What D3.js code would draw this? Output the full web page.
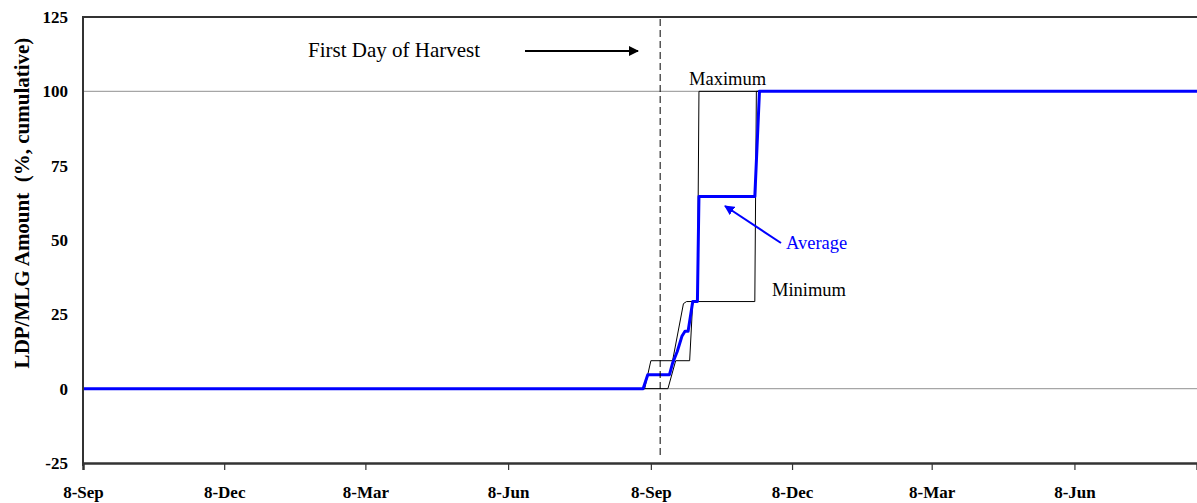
<!DOCTYPE html>
<html><head><meta charset="utf-8">
<script src="https://cdn.jsdelivr.net/npm/d3@7/dist/d3.min.js"></script>
<style>body{margin:0;background:#fff}svg{display:block}</style>
</head><body>
<svg id="c" width="1197" height="503"></svg>
<script>
// ---- data ----
const xDomain = ["2003-09-08", "2005-08-26"];
const xTickDates = ["2003-09-08","2003-12-08","2004-03-08","2004-06-08","2004-09-08","2004-12-08","2005-03-08","2005-06-08"];
const xTickLabels = ["8-Sep","8-Dec","8-Mar","8-Jun","8-Sep","8-Dec","8-Mar","8-Jun"];
const yTicks = [-25, 0, 25, 50, 75, 100, 125];
const gridValues = [0, 100];

const avgDates = ["2003-09-08","2004-09-03","2004-09-06","2004-09-20","2004-09-22","2004-09-25","2004-09-28","2004-09-30","2004-10-02","2004-10-05","2004-10-08","2004-10-09","2004-11-14","2004-11-17","2005-08-26"];
const avgValues = [0, 0, 4.7, 4.7, 8.6, 12.5, 17.6, 19.3, 19.3, 29.3, 29.3, 64.6, 64.6, 100, 100];

const maxDates = ["2003-09-08","2004-09-04","2004-09-08","2004-09-22","2004-09-29","2004-10-01","2004-10-08","2004-10-09","2005-08-26"];
const maxValues = [0, 0, 9.4, 9.4, 28.6, 29.3, 29.3, 100, 100];

const minDates = ["2003-09-08","2004-09-19","2004-09-24","2004-10-03","2004-10-05","2004-11-14","2004-11-15","2005-08-26"];
const minValues = [0, 0, 9.4, 9.4, 29.3, 29.3, 100, 100];

const harvestDate = "2004-09-14";

// ---- layout ----
const parse = d3.timeParse("%Y-%m-%d");
const svg = d3.select("#c");
const L = 83, R = 1197, T = 17, B = 463;
const x = d3.scaleTime().domain(xDomain.map(parse)).range([L, R]);
const y = d3.scaleLinear().domain([-25, 125]).range([B, T]);
const serif = "Liberation Serif, Times New Roman, serif";

// gridlines
svg.append("g").selectAll("line").data(gridValues).join("line")
  .attr("x1", L).attr("x2", R).attr("y1", d => y(d)).attr("y2", d => y(d))
  .attr("stroke", "#a6a6a6").attr("stroke-width", 1.2);

// lines
const mk = (dates, vals) => dates.map((d, i) => ({d: parse(d), v: vals[i]}));
const line = d3.line().x(p => x(p.d)).y(p => y(p.v));
svg.append("path").datum(mk(maxDates, maxValues)).attr("d", line)
  .attr("fill", "none").attr("stroke", "#000").attr("stroke-width", 1);
svg.append("path").datum(mk(minDates, minValues)).attr("d", line)
  .attr("fill", "none").attr("stroke", "#000").attr("stroke-width", 1);
svg.append("path").datum(mk(avgDates, avgValues)).attr("d", line)
  .attr("fill", "none").attr("stroke", "#0000ff").attr("stroke-width", 3).attr("stroke-linejoin", "round");

// harvest dashed line
const hx = x(parse(harvestDate));
svg.append("line").attr("x1", hx).attr("x2", hx).attr("y1", T + 2).attr("y2", B - 4)
  .attr("stroke", "#000").attr("stroke-width", 1).attr("stroke-dasharray", "7,4");

// axes frame
const frame = svg.append("g").attr("stroke", "#333").attr("stroke-width", 2);
frame.append("line").attr("x1", L).attr("x2", R).attr("y1", T).attr("y2", T);
frame.append("line").attr("x1", L).attr("x2", L).attr("y1", T - 1).attr("y2", B + 3);

// bottom axis
const xAxis = d3.axisBottom(x).tickValues(xTickDates.map(parse))
  .tickFormat((d, i) => xTickLabels[i]).tickSize(7).tickPadding(16);
const gx = svg.append("g").attr("transform", `translate(0,${B})`).call(xAxis);
gx.select(".domain").attr("stroke", "#333").attr("stroke-width", 2.4);
gx.selectAll(".tick line").attr("stroke", "#333").attr("stroke-width", 1.2);
gx.selectAll("text").attr("font-family", serif).attr("font-size", 17).attr("font-weight", "bold").attr("fill", "#000");

// left axis labels
const yAxis = d3.axisLeft(y).tickValues(yTicks).tickFormat(d => String(d)).tickSize(0).tickPadding(15);
const gy = svg.append("g").attr("transform", `translate(${L},0)`).call(yAxis);
gy.select(".domain").remove();
gy.selectAll("text").attr("font-family", serif).attr("font-size", 17).attr("font-weight", "bold").attr("fill", "#000");

// y title
svg.append("text").attr("transform", "translate(29,203) rotate(-90)")
  .attr("text-anchor", "middle").attr("font-family", serif).attr("font-size", 21).attr("font-weight", "bold")
  .style("white-space", "pre").text("LDP/MLG Amount  (%, cumulative)");

// annotations
const defs = svg.append("defs");
const marker = (id, col) => defs.append("marker").attr("id", id).attr("viewBox", "0 0 10 10")
  .attr("refX", 9).attr("refY", 5).attr("markerWidth", 5).attr("markerHeight", 5)
  .attr("markerUnits", "strokeWidth").attr("orient", "auto")
  .append("path").attr("d", "M0,0 L10,5 L0,10 z").attr("fill", col);
marker("ab", "#000"); marker("au", "#0000ff");

svg.append("text").attr("x", 308).attr("y", 57).attr("font-family", serif).attr("font-size", 21)
  .text("First Day of Harvest");
svg.append("line").attr("x1", 525).attr("y1", 51).attr("x2", 638).attr("y2", 51)
  .attr("stroke", "#000").attr("stroke-width", 2).attr("marker-end", "url(#ab)");

svg.append("text").attr("x", 689).attr("y", 85).attr("font-family", serif).attr("font-size", 18.5).text("Maximum");
svg.append("text").attr("x", 772).attr("y", 296).attr("font-family", serif).attr("font-size", 18.5).text("Minimum");
svg.append("text").attr("x", 786).attr("y", 249).attr("font-family", serif).attr("font-size", 18.5)
  .attr("fill", "#0000ff").text("Average");
svg.append("line").attr("x1", 781).attr("y1", 243).attr("x2", 725).attr("y2", 206)
  .attr("stroke", "#0000ff").attr("stroke-width", 2).attr("marker-end", "url(#au)");
</script>
</body></html>
